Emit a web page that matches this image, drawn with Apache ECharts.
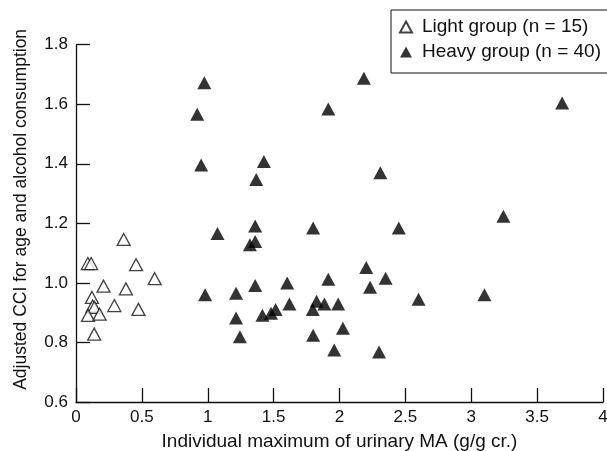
<!DOCTYPE html>
<html>
<head>
<meta charset="utf-8">
<script src="https://cdn.jsdelivr.net/npm/echarts@6/dist/echarts.min.js"></script>
<style>
  html, body { margin: 0; padding: 0; background: #fff; }
  #chart { width: 607px; height: 451px; }
</style>
</head>
<body>
<div id="chart"></div>
<script>
// light group: [urinary MA max, adjusted CCI]
const lightX = [0.09, 0.115, 0.362, 0.456, 0.597, 0.209, 0.379, 0.121, 0.126, 0.14, 0.291, 0.474, 0.091, 0.179, 0.138]
const lightY = [1.065, 1.065, 1.146, 1.061, 1.014, 0.989, 0.980, 0.951, 0.922, 0.918, 0.924, 0.911, 0.891, 0.895, 0.828]

// heavy group
const heavyX = [0.974, 0.92, 0.95, 0.98, 1.074, 1.215, 1.215, 1.244, 1.32, 1.36,
  1.36, 1.368, 1.426, 1.36, 1.415, 1.48, 1.515, 1.603, 1.62, 1.80,
  1.797, 1.826, 1.80, 1.885, 1.915, 1.915, 1.99, 2.026, 1.96, 2.185,
  2.203, 2.232, 2.31, 2.30, 2.35, 2.45, 2.60, 3.10, 3.244, 3.69]
const heavyY = [1.672, 1.566, 1.396, 0.960, 1.166, 0.965, 0.882, 0.819, 1.128, 1.139,
  1.191, 1.347, 1.408, 0.991, 0.891, 0.898, 0.911, 1.000, 0.929, 1.184,
  0.911, 0.938, 0.824, 0.929, 1.012, 1.584, 0.929, 0.848, 0.775, 1.687,
  1.052, 0.985, 1.370, 0.768, 1.016, 1.184, 0.945, 0.960, 1.224, 1.604]

const legendNames = ['Light group (n = 15)', 'Heavy group (n = 40)']

const font = 'Liberation Sans'
const ink = '#111'

const chart = echarts.init(document.getElementById('chart'), null, { renderer: 'canvas' })

const axisCommon = {
  axisLine: { show: true, lineStyle: { color: ink, width: 1.3 } },
  axisTick: { show: true, inside: true, length: 14, lineStyle: { color: ink, width: 1.3 } },
  splitLine: { show: false },
  axisLabel: { color: ink, fontFamily: font, fontSize: 17 },
  nameLocation: 'middle',
  nameTextStyle: { color: ink, fontFamily: font, fontSize: 17 }
}

chart.setOption({
  animation: false,
  backgroundColor: '#fff',
  grid: { left: 76, right: 4, top: 44.7, bottom: 49, outerBoundsMode: 'none' },
  legend: {
    orient: 'vertical',
    left: 391,
    top: 10,
    padding: [6, 40, 10, 8],
    borderColor: ink,
    borderWidth: 1,
    itemWidth: 12,
    itemHeight: 11,
    itemGap: 3,
    textStyle: { color: ink, fontFamily: font, fontSize: 19, lineHeight: 22, padding: [0, 0, 0, 5] },
    data: legendNames
  },
  xAxis: Object.assign({}, axisCommon, {
    type: 'value',
    min: 0,
    max: 4,
    interval: 0.5,
    name: 'Individual maximum of urinary MA (g/g cr.)',
    nameGap: 30,
    nameTextStyle: Object.assign({}, axisCommon.nameTextStyle, { fontSize: 19 }),
    axisLabel: Object.assign({}, axisCommon.axisLabel, { margin: 7 })
  }),
  yAxis: Object.assign({}, axisCommon, {
    type: 'value',
    min: 0.6,
    max: 1.8,
    interval: 0.2,
    name: 'Adjusted CCI for age and alcohol consumption',
    nameGap: 46,
    nameTextStyle: Object.assign({}, axisCommon.nameTextStyle, { fontSize: 17.5, padding: [0, 0, 0, 28] }),
    axisLabel: Object.assign({}, axisCommon.axisLabel, {
      margin: 8,
      formatter: (v) => v.toFixed(1)
    })
  }),
  series: [
    {
      name: legendNames[0],
      type: 'scatter',
      symbol: 'triangle',
      symbolSize: [13, 12],
      itemStyle: { color: '#fff', borderColor: ink, borderWidth: 1.3 },
      data: lightX.map((x, i) => [x, lightY[i]])
    },
    {
      name: legendNames[1],
      type: 'scatter',
      symbol: 'triangle',
      symbolSize: [14, 13],
      itemStyle: { color: '#000' },
      data: heavyX.map((x, i) => [x, heavyY[i]])
    }
  ]
})
</script>
</body>
</html>
